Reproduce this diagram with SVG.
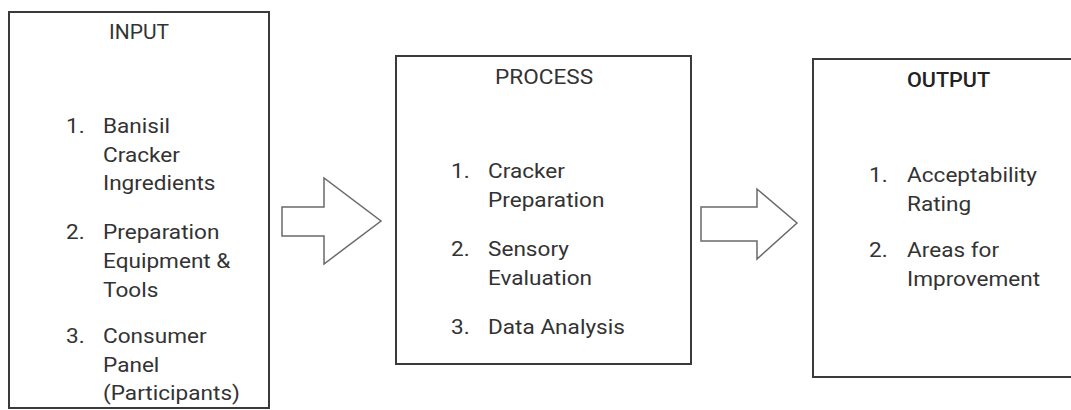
<svg xmlns="http://www.w3.org/2000/svg" width="1071" height="410" viewBox="0 0 1071 410">
<style>
.box{fill:#fff;stroke:#3a3a3a;stroke-width:2}
.arrow{fill:#fff;stroke:#6a6a6a;stroke-width:1.5;stroke-linejoin:miter}
text{font-family:Roboto,"Liberation Sans",Arial,sans-serif;font-size:20px;fill:#333}
.hd{text-anchor:middle}
.bold{font-weight:500;fill:#222}
</style>
<rect width="1071" height="410" fill="#fff"/>
<g id="connectors">
<path class="arrow" d="M282,207 H324 V178 L381,221 L324,264 V236 H282 Z"/>
<path class="arrow" d="M701,207 H757 V189 L797,223 L757,259 V241 H701 Z"/>
</g>
<g id="input">
<rect class="box" x="9" y="12" width="260" height="396"/>
<g transform="translate(139 0) scale(1.05 1)"><text class="hd" x="0" y="39">INPUT</text></g>
<g transform="translate(66 0) scale(1.13 1)">
<text x="0" y="133">1.</text>
<text x="0" y="239">2.</text>
<text x="0" y="343">3.</text>
</g>
<g transform="translate(103 0) scale(1.13 1)">
<text x="0" y="133">Banisil</text>
<text x="0" y="162">Cracker</text>
<text x="0" y="190">Ingredients</text>
<text x="0" y="239">Preparation</text>
<text x="0" y="268">Equipment &amp;</text>
<text x="0" y="297">Tools</text>
<text x="0" y="343">Consumer</text>
<text x="0" y="372">Panel</text>
<text x="0" y="400">(Participants)</text>
</g>
</g>
<g id="process">
<rect class="box" x="396" y="56" width="295" height="308"/>
<g transform="translate(544 0) scale(1.13 1)"><text class="hd" x="0" y="84">PROCESS</text></g>
<g transform="translate(451 0) scale(1.13 1)">
<text x="0" y="178">1.</text>
<text x="0" y="256">2.</text>
<text x="0" y="334">3.</text>
</g>
<g transform="translate(488 0) scale(1.13 1)">
<text x="0" y="178">Cracker</text>
<text x="0" y="207">Preparation</text>
<text x="0" y="256">Sensory</text>
<text x="0" y="285">Evaluation</text>
<text x="0" y="334">Data Analysis</text>
</g>
</g>
<g id="output">
<rect class="box" x="813" y="59" width="272" height="318"/>
<g transform="translate(948.5 0) scale(1.08 1)"><text class="hd bold" x="0" y="87">OUTPUT</text></g>
<g transform="translate(869 0) scale(1.13 1)">
<text x="0" y="182">1.</text>
<text x="0" y="257">2.</text>
</g>
<g transform="translate(907 0) scale(1.13 1)">
<text x="0" y="182">Acceptability</text>
<text x="0" y="211">Rating</text>
<text x="0" y="257">Areas for</text>
<text x="0" y="286">Improvement</text>
</g>
</g>
</svg>
